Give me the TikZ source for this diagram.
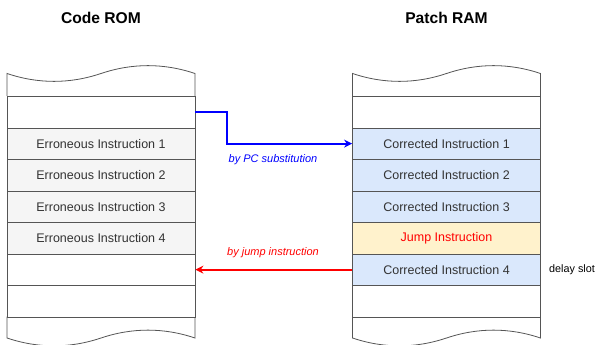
\documentclass[tikz,border=0pt]{standalone}
\usepackage{fontspec}
\setmainfont{Liberation Sans}
\usetikzlibrary{arrows.meta}
\definecolor{cellline}{HTML}{555555}
\definecolor{txt}{HTML}{333333}
\definecolor{romfill}{HTML}{F5F5F5}
\definecolor{ramfill}{HTML}{DAE8FC}
\definecolor{jmpfill}{HTML}{FFF2CC}
\definecolor{pcblue}{HTML}{0000FF}
\definecolor{jmpred}{HTML}{FF0000}
\begin{document}
\begin{tikzpicture}[x=1pt,y=-1pt,
  cell/.style={draw=cellline, line width=0.8pt, minimum width=188pt, minimum height=31.5pt,
    inner sep=0pt, anchor=north, fill=white, font=\fontsize{12.5}{14}\selectfont, text=txt},
  rom/.style={cell, fill=romfill},
  ram/.style={cell, fill=ramfill},
  jmp/.style={cell, fill=jmpfill, text=jmpred},
  tapeline/.style={draw=cellline, line width=0.8pt, fill=white},
  title/.style={font=\fontsize{15.6}{18}\selectfont\bfseries, text=black},
  lbl/.style={font=\fontsize{11}{13}\selectfont\itshape},
  note/.style={font=\fontsize{10.8}{13}\selectfont, text=black, anchor=west, inner sep=0pt},
  link/.style={line width=2pt, -{Stealth[length=8pt,width=8pt]}}]
\useasboundingbox (0,0) rectangle (595,345);

% titles
\node[title] (t1) at (101,18) {Code ROM};
\node[title] (t2) at (446.5,18) {Patch RAM};

% tape ends
\foreach \dx in {0,345.5} {
  \begin{scope}[xshift=\dx]
    \draw[tapeline] (7,96) -- (7,73.5) .. controls (38.3,84) and (69.7,84) .. (101,73.5)
      .. controls (132.3,63) and (163.7,63) .. (195,73.5) -- (195,96);
    \draw[tapeline] (7,316.5) -- (7,338) .. controls (38.3,348.5) and (69.7,348.5) .. (101,338)
      .. controls (132.3,327.5) and (163.7,327.5) .. (195,338) -- (195,316.5);
  \end{scope}
}

% Code ROM rows
\node[cell] (L1) at (101,96) {};
\node[rom]  (L2) at (101,127.5) {Erroneous Instruction 1};
\node[rom]  (L3) at (101,159) {Erroneous Instruction 2};
\node[rom]  (L4) at (101,190.5) {Erroneous Instruction 3};
\node[rom]  (L5) at (101,222) {Erroneous Instruction 4};
\node[cell] (L6) at (101,253.5) {};
\node[cell] (L7) at (101,285) {};

% Patch RAM rows
\node[cell] (R1) at (446.5,96) {};
\node[ram]  (R2) at (446.5,127.5) {Corrected Instruction 1};
\node[ram]  (R3) at (446.5,159) {Corrected Instruction 2};
\node[ram]  (R4) at (446.5,190.5) {Corrected Instruction 3};
\node[jmp]  (R5) at (446.5,222) {Jump Instruction};
\node[ram]  (R6) at (446.5,253.5) {Corrected Instruction 4};
\node[cell] (R7) at (446.5,285) {};

% connectors
\draw[link, pcblue] (L1.east) -- ++(32,0) |- (R2.west);
\draw[link, jmpred] (R6.west) -- (L6.east);

% labels
\node[lbl, text=pcblue] (lpc) at (273,159.5) {by PC substitution};
\node[lbl, text=jmpred] (ljmp) at (273,253) {by jump instruction};
\node[note] (ds) at (549,269.5) {delay slot};
\end{tikzpicture}
\end{document}
